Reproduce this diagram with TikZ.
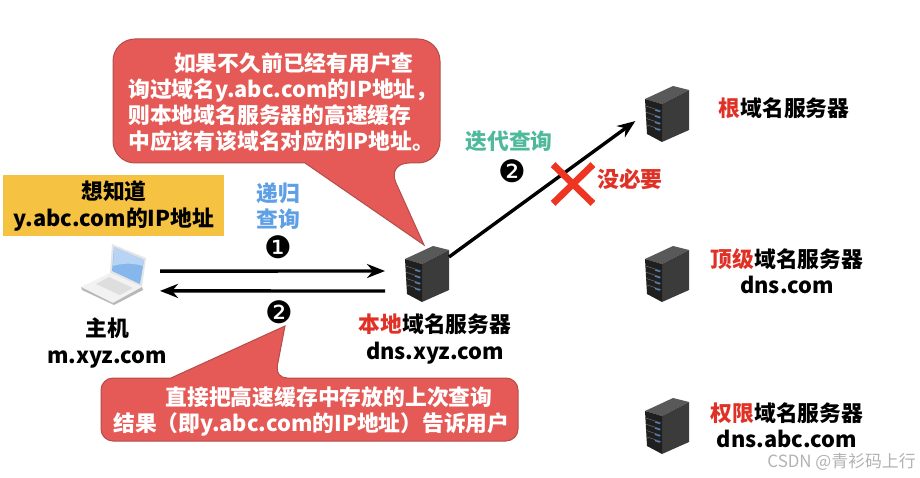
\documentclass[tikz,border=0pt]{standalone}
\usepackage{fontspec}
\usepackage{amsmath}
\usepackage{tikz}
\usetikzlibrary{arrows.meta,shapes.misc}
\setmainfont{Noto Sans CJK SC}
\newfontfamily\dejavu{DejaVu Sans}

\definecolor{keyred}{HTML}{E03127}
\definecolor{crossred}{HTML}{EE3522}
\definecolor{callfill}{HTML}{E55A56}
\definecolor{callline}{HTML}{B24E4B}
\definecolor{notegold}{HTML}{F5C242}
\definecolor{recblue}{HTML}{5E9FE6}
\definecolor{itergreen}{HTML}{4FB99B}

\newcommand{\hot}[1]{\textcolor{keyred}{#1}}

\tikzset{
	label/.style={font=\fontsize{15.5}{18.7}\selectfont\bfseries,align=center,inner sep=0pt},
	badge/.style={font=\dejavu\fontsize{22}{24}\selectfont,inner sep=0pt},
	calltext/.style={font=\fontsize{15.5}{18.7}\selectfont\bfseries,align=left,inner sep=0pt,text=white},
	callout/.style={fill=callfill,draw=callline,line width=0.25mm},
	srvbox/.style={minimum width=11mm,minimum height=14mm,inner sep=0pt,outer sep=0pt},
	hostbox/.style={minimum width=16.25mm,minimum height=15.25mm,inner sep=0pt,outer sep=0pt},
	flow/.style={line width=0.85mm,-{Stealth[length=4.5mm,width=3.5mm]}},
	serverpic/.pic={
		\fill[black!65] (0,13) -- (28,0) -- (44,4) -- (17,18) -- cycle;
		\fill[black!77] (17,18) -- (44,4) -- (44,44) -- (17,56) -- cycle;
		\fill[black!88] (0,13) -- (17,18) -- (17,56) -- (2,48) -- cycle;
		\foreach \y in {0,1,2,3} {
			\draw[black!60,line width=0.15mm] (1,{20+6.2*\y}) -- (16,{25+6.2*\y});
			\draw[recblue!85!black,line width=0.3mm] (10,{24+6.2*\y}) -- (15,{25.6+6.2*\y});
		}
	},
	laptoppic/.pic={
		\fill[black!10] (31,0) -- (65,14) -- (61,43) -- (29,29) -- cycle;
		\fill[recblue!75] (33,3) -- (63,16) -- (59,40) -- (31,27) -- cycle;
		\fill[recblue!45] (33,3) -- (63,16) -- (62,22) .. controls (50,18) and (38,20) .. (32,22) -- cycle;
		\fill[black!5] (29,29) -- (61,43) -- (32,59) -- (0,43) -- cycle;
		\fill[black!28] (0,43) -- (32,59) -- (61,43) -- (62,46) -- (33,61) -- (1,46) -- cycle;
		\fill[black!13] (28,33) -- (52,44) -- (39,51) -- (15,40) -- cycle;
	}
}

\begin{document}
\begin{tikzpicture}[x=0.25mm,y=-0.25mm]
	
	\useasboundingbox (0,0) rectangle (920,478);
	
	\node[hostbox] (host) at (113.5,274.5) {};
	\node[srvbox] (local) at (427,274) {};
	\node[srvbox] (root) at (667,114) {};
	\node[srvbox] (tld) at (667,274) {};
	\node[srvbox] (auth) at (667,426) {};
	
	\pic at (host.north west) {laptoppic};
	\pic at (local.north west) {serverpic};
	\pic at (root.north west) {serverpic};
	\pic at (tld.north west) {serverpic};
	\pic at (auth.north west) {serverpic};
	
	\path[flow,shorten <=3.5mm,shorten >=5mm] ([yshift=0.85mm]host.east) edge ([yshift=0.75mm]local.west);
	\path[flow,shorten <=5mm,shorten >=3.5mm] ([yshift=-4.25mm]local.west) edge ([yshift=-4.1mm]host.east);
	\path[flow,shorten >=3mm] ([yshift=4.25mm]local.east) edge (root.west);
	
	\draw[callout,rounded corners=5.5mm] (305,163) -- (113,163) -- (113,39) -- (440,39) -- (440,163) -- (387,163) [sharp corners] -- (424,245) -- cycle;
	\draw[callout,rounded corners=3mm] (171,378) -- (101,378) -- (101,441) -- (518,441) -- (518,378) -- (275,378) [sharp corners] -- (285,326) -- cycle;
	\fill[notegold] (3,175) rectangle (224,236);
	
	\node[calltext,anchor=north west] (why) at (128,52) {\hspace*{2.1em}如果不久前已经有用户查\\询过域名y.abc.com的IP地址，\\则本地域名服务器的高速缓存\\中应该有该域名对应的IP地址。};
	\node[calltext,anchor=north west] (reply) at (113,386) {\hspace*{2.4em}直接把高速缓存中存放的上次查询\\结果（即y.abc.com的IP地址）告诉用户};
	
	\node[label] (want) at (114,206) {想知道\\y.abc.com的IP地址};
	\node[label,text=recblue] (rec) at (278,206) {递归\\查询};
	\node[badge] (one) at (278,247) {❶};
	\node[badge] (two) at (279,312) {❷};
	\node[label,text=itergreen] (iter) at (509,141) {迭代查询};
	\node[badge] (twob) at (512,171) {❷};
	\node[cross out,draw=crossred,line width=1.7mm,minimum width=8.25mm,minimum height=8mm,inner sep=0pt] (nope) at (573,184) {};
	\node[label,text=keyred] (noneed) at (630,179) {没必要};
	
	\node[label] (hostname) at (107,343) {主机\\m.xyz.com};
	\node[label] (localname) at (435,339) {\hot{本地}域名服务器\\dns.xyz.com};
	\node[label] (rootname) at (784,108) {\hot{根}域名服务器};
	\node[label] (tldname) at (787,271) {\hot{顶级}域名服务器\\dns.com};
	\node[label] (authname) at (787,425) {\hot{权限}域名服务器\\dns.abc.com};
	
	\node[inner sep=0pt,text=black!30,font=\fontsize{12}{14}\selectfont,anchor=east] (mark) at (916,462) {CSDN @青衫码上行};
	
\end{tikzpicture}
\end{document}
